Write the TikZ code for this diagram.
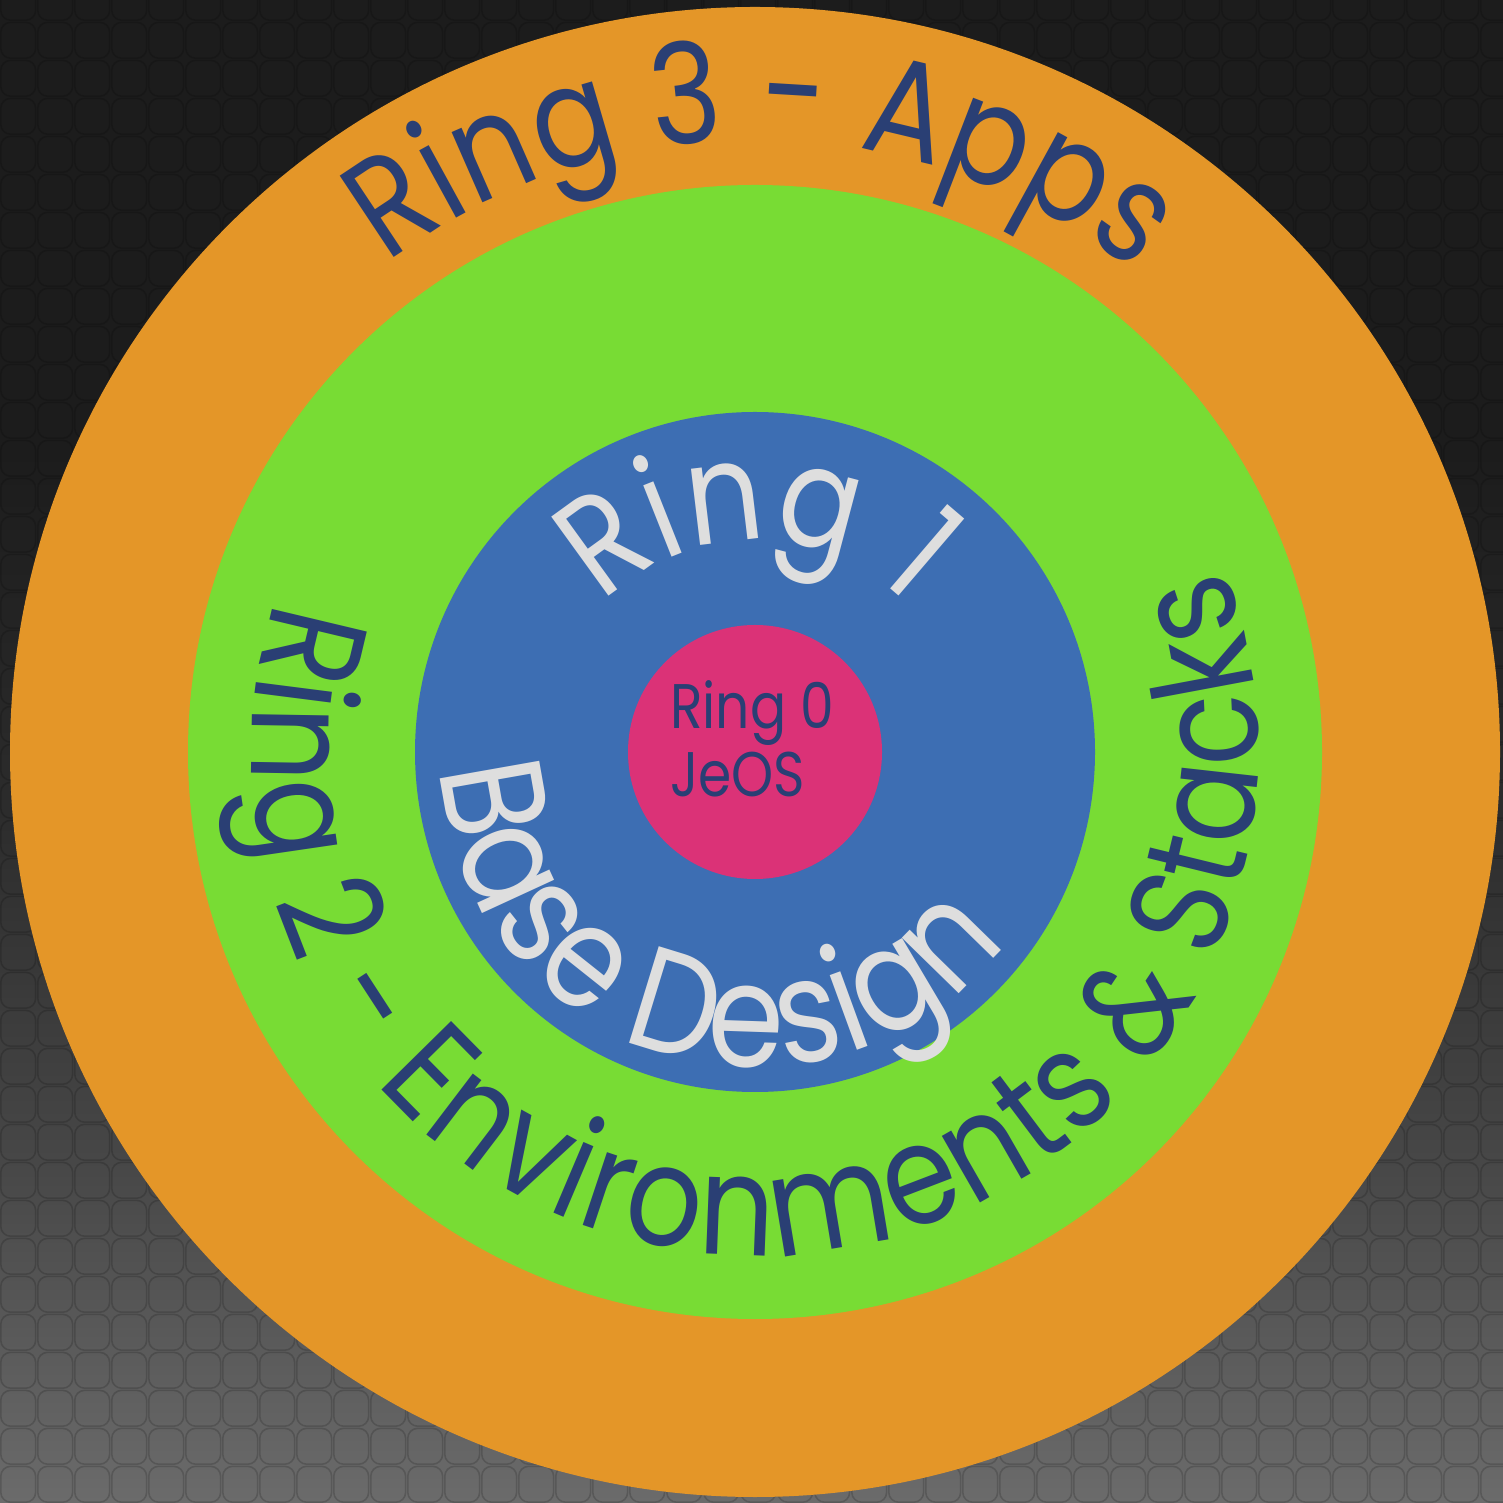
\documentclass[tikz,border=0pt]{standalone}
\usepackage{fontspec}
\usetikzlibrary{patterns}
\newfontfamily\rf[FakeStretch=0.85]{Poppins}
\definecolor{ringorange}{HTML}{E49628}
\definecolor{ringgreen}{HTML}{78DC34}
\definecolor{ringblue}{HTML}{3D6EB3}
\definecolor{ringpink}{HTML}{DB3277}
\definecolor{txtdark}{HTML}{2A3F74}
\definecolor{txtlight}{HTML}{DEDEDE}
\definecolor{bgA}{HTML}{1C1C1C}
\definecolor{bgB}{HTML}{2C2C2C}
\definecolor{bgC}{HTML}{484848}
\definecolor{bgD}{HTML}{6B6B6B}
\definecolor{tileline}{HTML}{000000}
\pgfdeclareverticalshading{bgshade}{100bp}{color(0bp)=(bgD); color(25bp)=(bgD); color(36bp)=(bgC); color(48bp)=(bgB); color(60bp)=(bgA); color(75bp)=(bgA); color(100bp)=(bgA)}
\pgfdeclarepatternformonly{roundtiles}{\pgfpointorigin}{\pgfpoint{36.7pt}{38.2pt}}{\pgfpoint{36.7pt}{38.2pt}}{%
  \pgfsetlinewidth{1.6pt}%
  \pgfsetcornersarced{\pgfpoint{10pt}{10pt}}%
  \pgfpathrectangle{\pgfpoint{0.8pt}{0.8pt}}{\pgfpoint{35.1pt}{36.6pt}}%
  \pgfusepath{stroke}%
}
\tikzset{
  tile/.style={pattern=roundtiles, pattern color=tileline, fill opacity=0.16},
  disc/.style={circle, inner sep=0pt, draw=none},
  arcchar/.style={anchor=base, inner sep=0pt, outer sep=0pt},
}
\newlength\chw
\newlength\arcsum
\def\fbig{\rf\fontsize{140}{140}\selectfont}
\def\fbigger{\rf\fontsize{145}{145}\selectfont}
\def\lista{R,i,n,g,\ ,3,\ ,-,\ ,A,p,p,s}
\def\listb{R,i,n,g,\ ,2,\ ,-,\ ,E,n,v,i,r,o,n,m,e,n,t,s,\ ,\&,\ ,S,t,a,c,k,s}
\def\listc{R,i,n,g,\ ,1}
\def\listd{B,a,s,e,\ ,D,e,s,i,g,n}
% measure outside the picture: #1 name, #2 font, #3 list macro, #4 tracking (pt)
\newcommand\measurearc[4]{%
  \global\arcsum=0pt
  \foreach \c [count=\k] in #3{%
    \settowidth{\chw}{#2\c}%
    \advance\chw by #4pt
    \expandafter\xdef\csname aw-#1-\k\endcsname{\the\chw}%
    \global\advance\arcsum by \chw
  }%
  \expandafter\xdef\csname at-#1\endcsname{\the\arcsum}%
}
\AtBeginDocument{%
  \measurearc{ra}{\fbig}{\lista}{1}%
  \measurearc{rb}{\fbig}{\listb}{3}%
  \measurearc{rc}{\fbig}{\listc}{2}%
  \measurearc{rd}{\fbigger}{\listd}{1.5}%
}
% #1 radius, #2 centre angle, #3 direction (1 ccw / -1 cw), #4 font, #5 colour, #6 name, #7 list macro
\newcommand\arctext[7]{%
  \edef\arctotal{\csname at-#6\endcsname}%
  \pgfmathsetmacro\arcstart{#2-#3*(\arctotal/2)/#1*180/pi}%
  \global\arcsum=0pt
  \foreach \c [count=\k] in #7{%
    \edef\thisw{\csname aw-#6-\k\endcsname}%
    \pgfmathsetmacro\arcang{\arcstart+#3*(\arcsum+\thisw/2)/#1*180/pi}%
    \pgfmathsetmacro\arcrot{\arcang+#3*90}%
    \node[arcchar, text=#5, font=#4, rotate=\arcrot] (#6\k) at (\arcang:#1) {\c};
    \global\advance\arcsum by \thisw
  }%
}
\begin{document}
\begin{tikzpicture}[x=1pt,y=1pt]
\useasboundingbox (0,0) rectangle (1503,1502);
\shade[shading=bgshade] (0,0) rectangle (1503,1502);
\fill[tile] (0,0) rectangle (1503,1502);
\node[disc, fill=ringorange, minimum size=1490pt] (r3) at (755,750) {};
\node[disc, fill=ringgreen, minimum size=1134pt] (r2) at (755,750) {};
\node[disc, fill=ringblue, minimum size=680pt] (r1) at (755,750) {};
\node[disc, fill=ringpink, minimum size=254pt] (r0) at (755,750) {};
\begin{scope}[shift={(755,750)}]
  \arctext{612}{89.3}{-1}{\fbig}{txtdark}{ra}{\lista}
  \arctext{503}{272}{1}{\fbig}{txtdark}{rb}{\listb}
  \arctext{212}{90}{-1}{\fbig}{txtlight}{rc}{\listc}
  \arctext{315}{253}{1}{\fbigger}{txtlight}{rd}{\listd}
\end{scope}
\node[anchor=base west, inner sep=0pt, text=txtdark, font=\rf\fontsize{63}{63}\selectfont] (t0a) at (670,773) {Ring 0};
\node[anchor=base west, inner sep=0pt, text=txtdark, font=\rf\fontsize{63}{63}\selectfont] (t0b) at (670,705) {JeOS};
\end{tikzpicture}
\end{document}
